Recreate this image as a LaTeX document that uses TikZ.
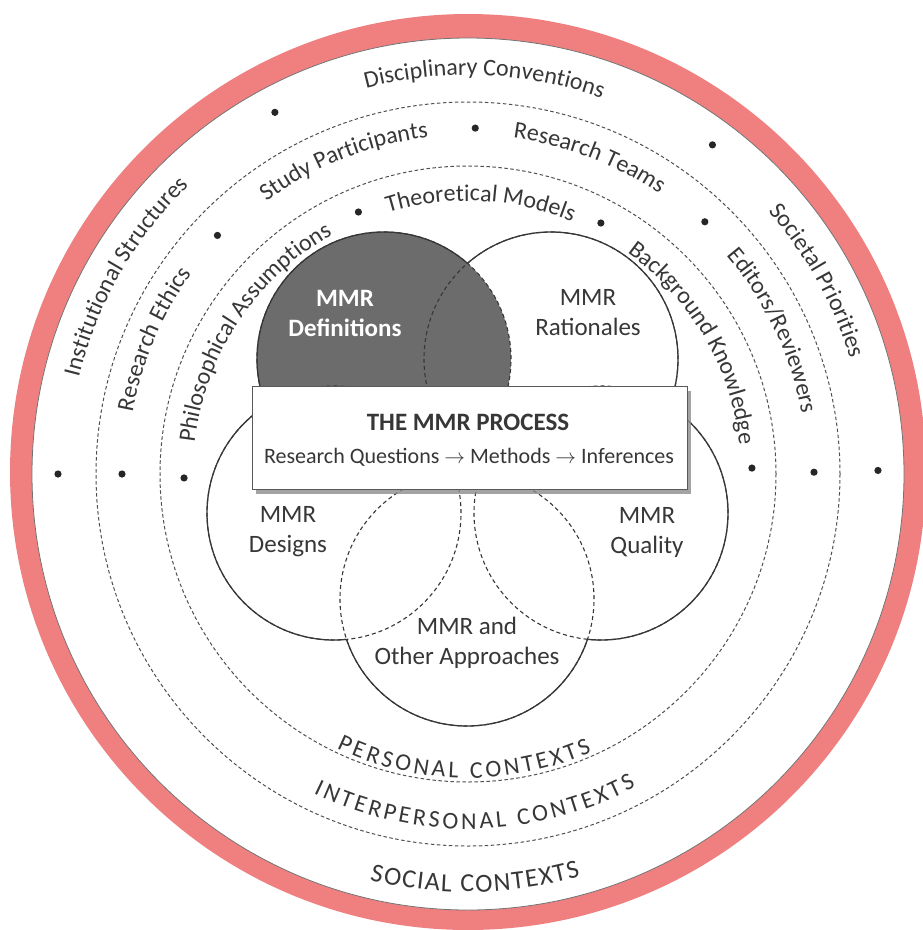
\documentclass[tikz,border=0pt]{standalone}
\usepackage{fontspec}
\setmainfont{Carlito}
\usetikzlibrary{decorations.text,shadows}
\definecolor{pinkring}{RGB}{240,128,128}
\definecolor{txt}{RGB}{55,55,55}
\definecolor{defgray}{RGB}{108,108,108}
\definecolor{vline}{RGB}{55,55,55}
\definecolor{rline}{RGB}{80,80,80}
\newcommand\ringfont{\fontsize{24}{28}\selectfont\color{txt}}
\newcommand\ringtop[3]{\path[decorate, decoration={text along path, text align=center, text={|\ringfont|#3}}] ([shift={(C)}]#1+50:#2) arc[start angle=#1+50, end angle=#1-50, radius=#2];}
\newcommand\ringbot[5]{\path[decorate, decoration={text along path, text align=fit to path, text={|\fontsize{#4}{#4}\selectfont\color{txt}|#5}}] ([shift={(C)}]#1:#3) arc[start angle=#1, end angle=#2, radius=#3];}
\begin{document}
\begin{tikzpicture}[x=1pt,y=1pt,
  ringdash/.style={draw=rline, line width=1, dash pattern=on 3.5pt off 2.5pt},
  venndash/.style={draw=vline, line width=1.1, dash pattern=on 4pt off 3pt},
  vennsolid/.style={draw=vline, line width=1.3},
  venntxt/.style={inner sep=0, align=center, text=txt, font=\fontsize{25}{30}\selectfont},
  dotc/.style={fill=black!85}
]
\useasboundingbox (0,0) rectangle (923,-930);
\fill[white] (0,0) rectangle (923,-930);
\coordinate (C) at (468,-474);
% pink frame
\fill[pinkring] (468,-472) circle[radius=458];
\fill[white] (C) circle[radius=436];
\draw[black!55, line width=0.8] (C) circle[radius=436];
% dashed rings
\draw[ringdash] (C) circle[radius=372];
\draw[ringdash] (C) circle[radius=308];
% dots
\foreach \a/\r in {180/410, 118.1/410, 53.4/410, 0.5/410,
                   180/346, 136.4/346, 88.8/346, 46.8/346, 0.3/346,
                   180.8/284, 112.7/284, 62.1/284, 1.2/284}
  \fill[dotc] ([shift={(C)}]\a:\r) circle[radius=3.6];
% ring labels
\ringtop{150}{401}{Institutional Structures}
\ringtop{87.6}{399}{Disciplinary Conventions}
\ringtop{29}{399}{Societal Priorities}
\ringbot{256.4}{285.6}{418}{26}{SOCIAL CONTEXTS}
\ringtop{156.8}{341}{Research Ethics}
\ringtop{111.6}{339}{Study Participants}
\ringtop{69}{339}{Research Teams}
\ringtop{25.2}{339}{Editors/Reviewers}
\ringbot{244.2}{298.2}{355}{24}{INTERPERSONAL CONTEXTS}
\ringtop{146.5}{275}{Philosophical Assumptions}
\ringtop{87.3}{273}{Theoretical Models}
\ringtop{30.2}{273}{Background Knowledge}
\ringbot{244.4}{294.0}{304}{24}{PERSONAL CONTEXTS}
% Venn circles
\coordinate (cDef) at (384,-359);
\coordinate (cRat) at (551,-359);
\coordinate (cDes) at (334,-513);
\coordinate (cQua) at (601,-513);
\coordinate (cOth) at (467,-599);
\foreach \c in {cRat,cDes,cQua,cOth} \fill[white] (\c) circle[radius=127];
\fill[defgray] (cDef) circle[radius=127];
\foreach \c in {cDef,cRat,cDes,cQua,cOth} \draw[venndash] (\c) circle[radius=127];
\begin{scope}[even odd rule]
  \clip (0,0) rectangle (923,-930) (cRat) circle[radius=127] (cDes) circle[radius=127];
  \draw[vennsolid] (cDef) circle[radius=127];
\end{scope}
\begin{scope}[even odd rule]
  \clip (0,0) rectangle (923,-930) (cDef) circle[radius=127] (cQua) circle[radius=127];
  \draw[vennsolid] (cRat) circle[radius=127];
\end{scope}
\begin{scope}[even odd rule]
  \clip (0,0) rectangle (923,-930) (cDef) circle[radius=127] (cOth) circle[radius=127];
  \draw[vennsolid] (cDes) circle[radius=127];
\end{scope}
\begin{scope}[even odd rule]
  \clip (0,0) rectangle (923,-930) (cRat) circle[radius=127] (cOth) circle[radius=127];
  \draw[vennsolid] (cQua) circle[radius=127];
\end{scope}
\begin{scope}[even odd rule]
  \clip (0,0) rectangle (923,-930) (cDes) circle[radius=127] (cQua) circle[radius=127];
  \draw[vennsolid] (cOth) circle[radius=127];
\end{scope}
% Venn labels
\node[venntxt, text=white, font=\bfseries\fontsize{25}{30}\selectfont] (tDef) at (345,-313) {MMR\\Definitions};
\node[venntxt] (tRat) at (588,-313) {MMR\\Rationales};
\node[venntxt] (tDes) at (288,-532) {MMR\\Designs};
\node[venntxt] (tQua) at (647,-532) {MMR\\Quality};
\node[venntxt] (tOth) at (467,-643) {MMR and\\Other Approaches};
% process box
\node[draw=black!65, line width=1, fill=white, minimum width=435, minimum height=103, inner sep=0,
      drop shadow={shadow xshift=4pt, shadow yshift=-5pt, fill=black!45, opacity=0.8}] (proc) at (469.5,-437.5) {};
\node[inner sep=0, text=txt, font=\bfseries\fontsize{25}{29}\selectfont] (procT) at (468,-422) {THE MMR PROCESS};
\node[inner sep=0, text=txt, font=\fontsize{22}{26}\selectfont] (procS) at (469,-457) {Research Questions $\rightarrow$ Methods $\rightarrow$ Inferences};
\end{tikzpicture}
\end{document}
